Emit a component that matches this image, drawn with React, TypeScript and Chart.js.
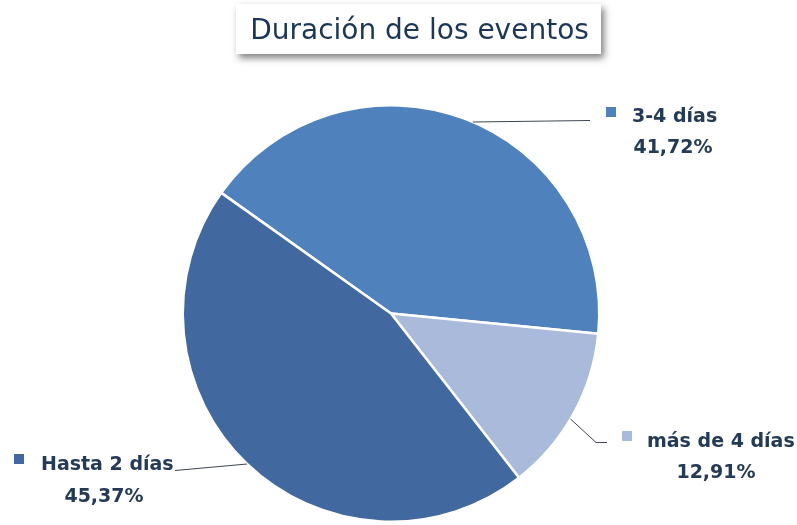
import React, { useEffect, useRef } from "react";
import { Chart, registerables } from "chart.js";

Chart.register(...registerables);

const categories = ["3-4 días", "más de 4 días", "Hasta 2 días"];
const values = [41.72, 12.91, 45.37];
const valueLabels = ["41,72%", "12,91%", "45,37%"];
const colors = ["#4f81bd", "#a9badb", "#41689f"];
const titleText = "Duración de los eventos";

const LFONT = "'DejaVu Sans', sans-serif";

function circleAtY(arc: any, y: number, side: number): [number, number] {
  const { x, y: cy, outerRadius } = arc.getProps(["x", "y", "outerRadius"], true);
  const dy = y - cy;
  const dx = Math.sqrt(Math.max(outerRadius * outerRadius - dy * dy, 0));
  return [x + side * dx, y];
}

const labelPlugin = {
  id: "sideLabels",
  afterDraw(chart: any) {
    const ctx = chart.ctx;
    const arcs = chart.getDatasetMeta(0).data;
    ctx.save();
    // Title box
    const tx = 236, ty = 4, tw = 365, th = 50;
    ctx.save();
    ctx.shadowColor = "rgba(0,0,0,0.5)";
    ctx.shadowBlur = 7;
    ctx.shadowOffsetX = 3;
    ctx.shadowOffsetY = 4;
    ctx.fillStyle = "#ffffff";
    ctx.fillRect(tx, ty, tw, th);
    ctx.restore();
    ctx.fillStyle = "#1c3656";
    ctx.font = `28px ${LFONT}`;
    ctx.textAlign = "center";
    ctx.textBaseline = "alphabetic";
    ctx.fillText(titleText, tx + tw / 2 + 1, 39);

    ctx.font = `bold 19px ${LFONT}`;
    ctx.strokeStyle = "#3f4650";
    ctx.lineWidth = 1;

    // 3-4 días
    {
      const p = circleAtY(arcs[0], 122, 1);
      ctx.beginPath();
      ctx.moveTo(p[0], p[1]);
      ctx.lineTo(590, 120.5);
      ctx.stroke();
    }
    // más de 4 días
    {
      const p = circleAtY(arcs[1], 419, 1);
      ctx.beginPath();
      ctx.moveTo(p[0], p[1]);
      ctx.lineTo(596, 442.5);
      ctx.lineTo(607, 442.5);
      ctx.stroke();
    }
    // Hasta 2 días
    {
      const p = circleAtY(arcs[2], 464, -1);
      ctx.beginPath();
      ctx.moveTo(p[0], p[1]);
      ctx.lineTo(175, 470.5);
      ctx.stroke();
    }

    const labels = [
      { sq: [606, 107], tx: 632, ty: 122, vx: 673, vy: 153 },
      { sq: [622, 431], tx: 647, ty: 447, vx: 716, vy: 478 },
      { sq: [14, 454], tx: 41, ty: 470, vx: 104, vy: 502 },
    ];
    ctx.textBaseline = "alphabetic";
    labels.forEach((c, i) => {
      ctx.fillStyle = colors[i];
      ctx.fillRect(c.sq[0], c.sq[1], 10, 10);
      ctx.fillStyle = "#243a55";
      ctx.textAlign = "left";
      ctx.fillText(categories[i], c.tx, c.ty);
      ctx.textAlign = "center";
      ctx.fillText(valueLabels[i], c.vx, c.vy);
    });
    ctx.restore();
  },
};

export default function App() {
  const ref = useRef<HTMLCanvasElement>(null);
  useEffect(() => {
    if (!ref.current) return;
    const chart = new Chart(ref.current, {
      type: "pie",
      data: {
        labels: categories,
        datasets: [
          {
            data: values,
            backgroundColor: colors,
            borderColor: "#ffffff",
            borderWidth: 2.5,
          },
        ],
      },
      options: {
        animation: false,
        responsive: false,
        rotation: -54.6,
        layout: { padding: { top: 104, bottom: 2, left: 181, right: 196 } },
        plugins: {
          legend: { display: false },
          tooltip: { enabled: false },
        },
      },
      plugins: [labelPlugin],
    });
    return () => chart.destroy();
  }, []);
  return (
    <div style={{ position: "fixed", left: 0, top: 0, width: 797, height: 525, background: "#fff" }}>
      <canvas ref={ref} width={797} height={525} style={{ width: 797, height: 525 }} />
    </div>
  );
}
